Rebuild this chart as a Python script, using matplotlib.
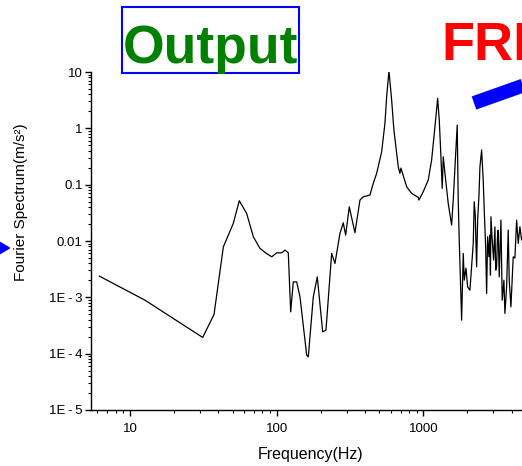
import numpy as np
import matplotlib.pyplot as plt
from matplotlib.patches import Rectangle, Polygon
from matplotlib.lines import Line2D
from matplotlib.ticker import FixedLocator, FixedFormatter, LogLocator, NullFormatter

plt.rcParams['font.family'] = ['Liberation Sans', 'DejaVu Sans']

# measured output spectrum (frequency in Hz, amplitude in m/s^2)
freq_hz = [
    6.18, 12.65, 31.3, 37.4, 43.3, 50.6, 55.6, 62.4, 69.3, 76.9,
    84.5, 92.5, 100, 108.2, 114, 120, 124.6, 129.8, 136.9, 144.2,
    160.2, 164.3, 177.7, 189.2, 205.9, 216.8, 237.1, 249.7, 270.1, 284.4,
    295.4, 312.6, 341.8, 369.7, 389.4, 432.5, 455.5, 480.6, 519.8, 547.3,
    562.1, 583, 608, 630, 674.5, 692.6, 703.6, 769.5, 832.4, 923,
    933, 998, 1080, 1139, 1200, 1252, 1284, 1312, 1345, 1367,
    1404, 1478, 1559, 1599, 1702, 1729, 1757, 1824, 1871, 1901,
    1952, 2004, 2078, 2189, 2223, 2259, 2308, 2345, 2393, 2432,
    2497, 2560, 2602, 2660, 2701, 2744, 2801, 2836, 2868, 2890,
    2950, 3015, 3076, 3115, 3160, 3200, 3240, 3292, 3381, 3450,
    3543, 3599, 3697, 3791, 3851, 3955, 4101, 4211, 4325, 4436,
    4555, 4678, 4851,
]
spectrum = [
    0.00238, 0.00089, 0.000194, 0.000497, 0.00789, 0.0205, 0.0518, 0.0309, 0.0119, 0.0074,
    0.0061, 0.00524, 0.00617, 0.00617, 0.00689, 0.00617, 0.000553, 0.00188, 0.00188, 0.00102,
    0.000094, 0.0000877, 0.00102, 0.00231, 0.000244, 0.000261, 0.00603, 0.0040, 0.01365, 0.0210,
    0.01274, 0.0405, 0.014, 0.0533, 0.061, 0.0653, 0.1054, 0.159, 0.384, 1.227,
    3.64, 10.4, 3.18, 0.933, 0.208, 0.159, 0.197, 0.0918, 0.070, 0.0595,
    0.0533, 0.0748, 0.121, 0.2735, 1.067, 3.41, 1.40, 0.412, 0.086, 0.313,
    0.159, 0.0466, 0.01916, 0.0533, 1.144, 0.0533, 0.0104, 0.000394, 0.00603, 0.00202,
    0.0033, 0.00154, 0.00134, 0.00906, 0.0497, 0.0288, 0.00348, 0.0235, 0.061, 0.208,
    0.412, 0.121, 0.0354, 0.00789, 0.00117, 0.0119, 0.00524, 0.01274, 0.00248, 0.0269,
    0.0104, 0.00458, 0.01787, 0.00304, 0.00348, 0.01127, 0.0156, 0.00231, 0.0235, 0.00089,
    0.00202, 0.000518, 0.00154, 0.0156, 0.00202, 0.000678, 0.00524, 0.00497, 0.0235, 0.00906,
    0.01787, 0.0104, 0.0144,
]

y_tick_vals = [1e-5, 1e-4, 1e-3, 1e-2, 1e-1, 1, 10]
y_tick_labels = ['1E\u2009-\u20095', '1E\u2009-\u20094', '1E\u2009-\u20093',
                 '0.01', '0.1', '1', '10']
x_tick_vals = [10, 100, 1000]
x_tick_labels = ['10', '100', '1000']

W, H = 522, 466


def fx(px):
    return px / W


def fy(py):
    return 1 - py / H


fig = plt.figure(figsize=(W / 100, H / 100), dpi=100)
# the frame runs past the right edge of the canvas on purpose
ax = fig.add_axes([fx(91), fy(410), (570 - 91) / W, (410 - 72) / H])

ax.plot(freq_hz, spectrum, color='black', lw=0.9)

ax.set_xscale('log')
ax.set_yscale('log')
ax.set_xlim(5.42, 10000)
ax.set_ylim(1e-5, 10)

ax.spines['top'].set_visible(False)
ax.spines['right'].set_visible(False)
for s in ('left', 'bottom'):
    ax.spines[s].set_linewidth(1.0)

ax.yaxis.set_major_locator(FixedLocator(y_tick_vals))
ax.yaxis.set_major_formatter(FixedFormatter(y_tick_labels))
ax.xaxis.set_major_locator(FixedLocator(x_tick_vals))
ax.xaxis.set_major_formatter(FixedFormatter(x_tick_labels))
for axis in (ax.xaxis, ax.yaxis):
    axis.set_minor_locator(LogLocator(base=10, subs=np.arange(2, 10), numticks=20))
    axis.set_minor_formatter(NullFormatter())

ax.tick_params(which='major', direction='out', length=4, width=1.0, labelsize=9.5, colors='black')
ax.tick_params(which='minor', direction='out', length=2.2, width=0.8)
ax.tick_params(axis='x', which='major', pad=5)
ax.tick_params(axis='y', which='major', pad=2)

fig.text(fx(311), fy(455), 'Frequency(Hz)', fontsize=11.5, ha='center', va='center')
fig.text(fx(21), fy(202), 'Fourier Spectrum(m/s²)', fontsize=11, rotation=90,
         ha='center', va='center')

# boxed panel caption
fig.patches.append(Rectangle((fx(121.7), fy(73.3)), fx(299) - fx(121.7), fy(6.7) - fy(73.3),
                             transform=fig.transFigure, fill=False, edgecolor='#0000ff',
                             lw=1.5))
fig.text(fx(210), fy(63), 'Output', fontsize=38.5, fontweight='bold', color='#008000',
         ha='center', va='baseline')

fig.text(fx(441), fy(60), 'FRF', fontsize=39, fontweight='bold', color='#ff0000',
         ha='left', va='baseline')

# connector arrows
fig.add_artist(Line2D([fx(474), fx(640)], [fy(103), fy(44)], transform=fig.transFigure,
                      color='#0000ff', lw=10, solid_capstyle='butt'))
fig.patches.append(Polygon([(fx(-4), fy(240)), (fx(9.5), fy(248)), (fx(-4), fy(256))],
                           closed=True, transform=fig.transFigure, color='#0000ff'))

fig.savefig('out.png', dpi=100)
